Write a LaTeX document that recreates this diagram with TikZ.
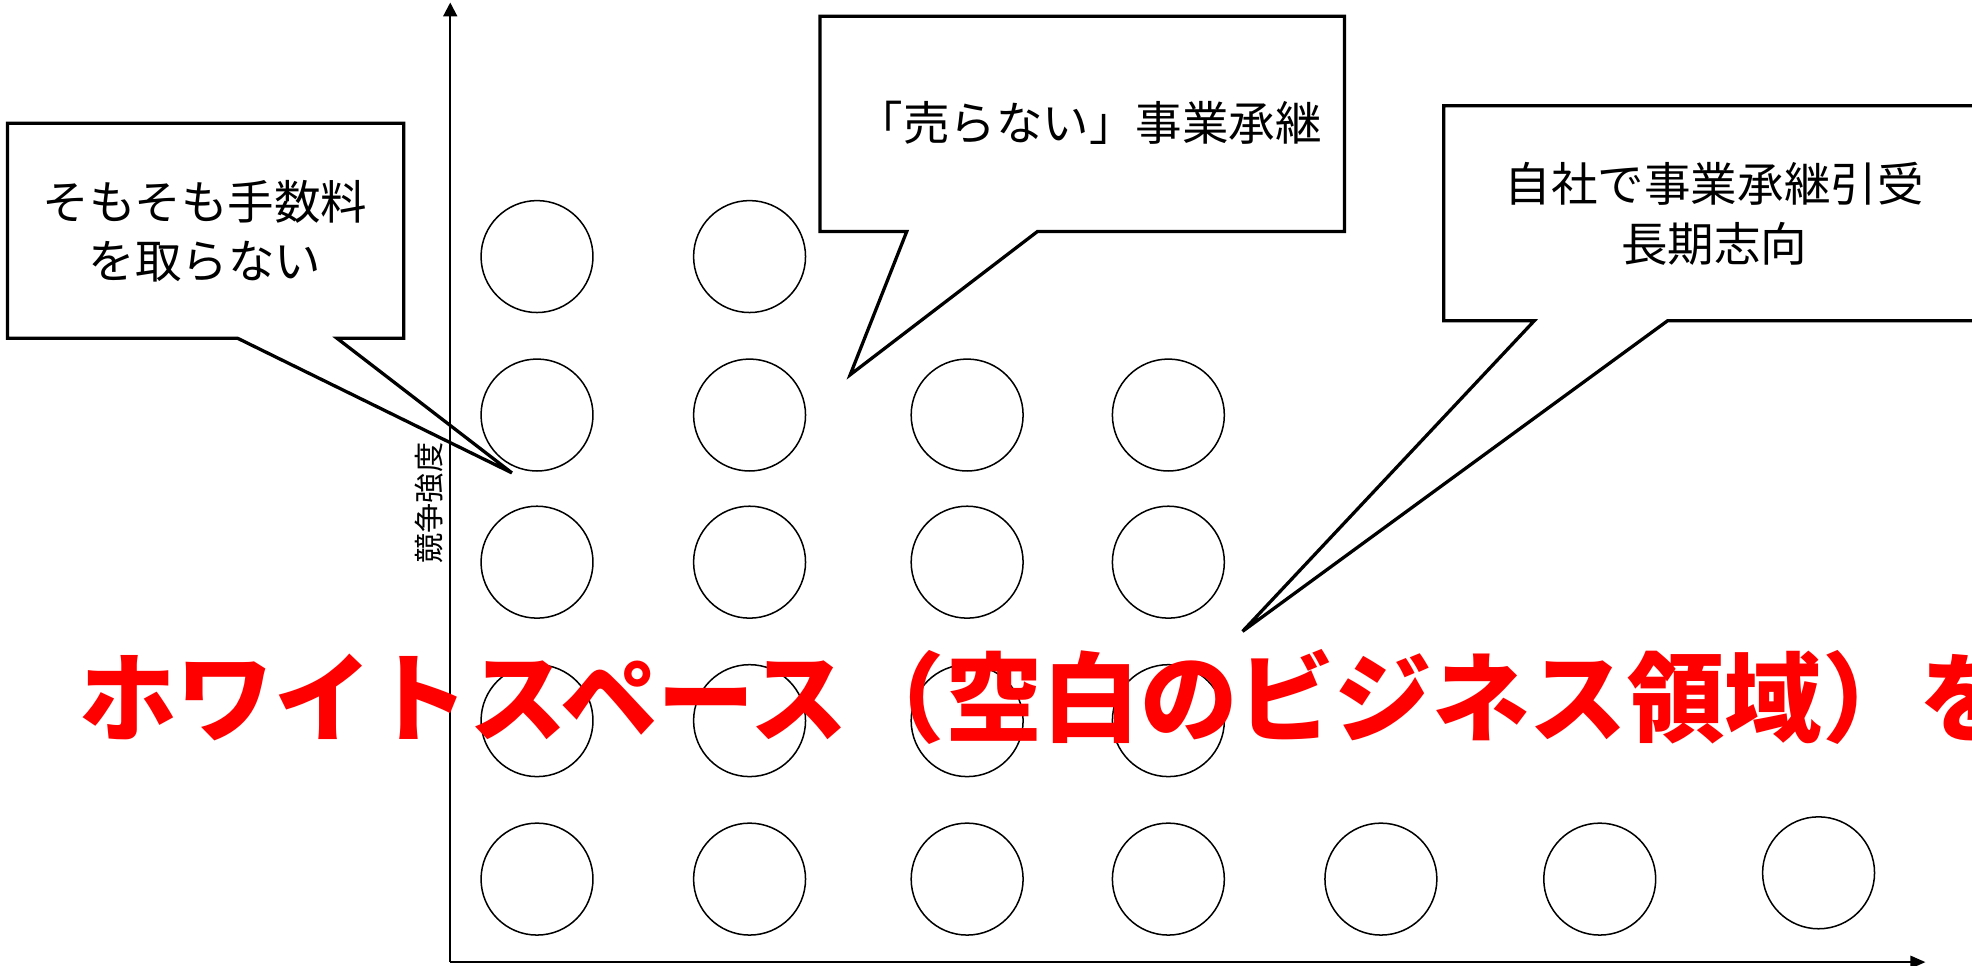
\documentclass[tikz,border=0pt]{standalone}
\usepackage{fontspec}
\setmainfont{Noto Sans CJK JP}
\usetikzlibrary{arrows.meta}
\begin{document}
\begin{tikzpicture}[x=1pt,y=-1pt,
  bubble/.style={circle,draw=black,line width=1.2pt,minimum size=89pt,inner sep=0pt},
  callout/.style={draw=black,fill=white,line width=2.6pt,line join=miter},
  callouttext/.style={align=center,inner sep=0pt,font=\fontsize{37}{47}\selectfont},
  axisline/.style={draw=black,line width=1.7pt},
  redtext/.style={anchor=west,inner sep=0pt,text={rgb,255:red,255;green,0;blue,0},font=\fontsize{77.5}{80}\selectfont\bfseries}]
\useasboundingbox (0,0) rectangle (1568,768);
\clip (0,0) rectangle (1568,768);
% circles
\foreach \n/\x/\y in {11/427/204,12/596/204,
  21/427/330,22/596/330,23/769/330,24/929/330,
  31/427/447,32/596/447,33/769/447,34/929/447,
  41/427/573,42/596/573,43/769/573,44/929/573,
  51/427/699,52/596/699,53/769/699,54/929/699,55/1098/699,56/1272/699,57/1446/694}
  \node[bubble] (c\n) at (\x,\y) {};
% callouts
\draw[callout] (6,98) -- (321,98) -- (321,269) -- (268,269) -- (407,376) -- (189,269) -- (6,269) -- cycle;
\node[callouttext] (t1) at (163,184) {そもそも手数料\\を取らない};
\draw[callout] (652,13) -- (1069,13) -- (1069,184) -- (825,184) -- (676,298) -- (721,184) -- (652,184) -- cycle;
\node[callouttext] (t2) at (866,98) {「売らない」事業承継};
\draw[callout] (1148,84) -- (1590,84) -- (1590,255) -- (1326,255) -- (988,502) -- (1220,255) -- (1148,255) -- cycle;
\node[callouttext] (t3) at (1363,170) {自社で事業承継引受\\長期志向};
% axes
\coordinate (o) at (358,765);
\coordinate (ytop) at (358,2);
\coordinate (xend) at (1531,765);
\draw[axisline,-{Triangle[length=11pt,width=11pt]}] (o) -- (ytop);
\draw[axisline,-{Triangle[length=12pt,width=10pt]}] (o) -- (xend);
\node[rotate=90,inner sep=0pt,font=\fontsize{24}{24}\selectfont] (ylab) at (341,400) {競争強度};
% red headline
\node[redtext] (ws) at (63,554) {ホワイトスペース（空白のビジネス領域）を};
\end{tikzpicture}
\end{document}
